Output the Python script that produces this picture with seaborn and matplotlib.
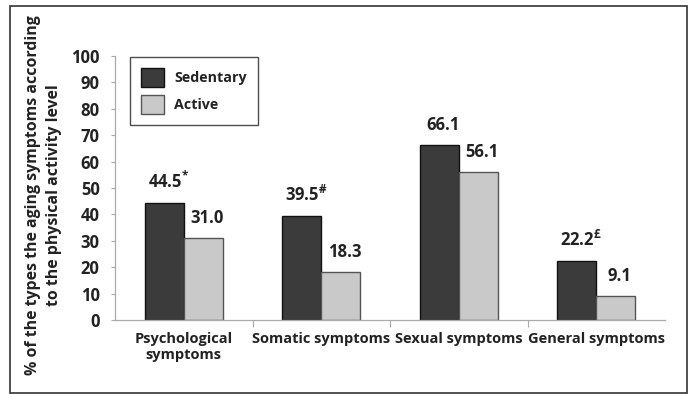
import matplotlib
matplotlib.use("Agg")
import matplotlib.pyplot as plt
import seaborn as sns
import pandas as pd
from matplotlib.patches import Rectangle, Patch

categories = ["Psychological\nsymptoms", "Somatic symptoms", "Sexual symptoms", "General symptoms"]
groups = ["Sedentary", "Active"]
sedentary = [44.5, 39.5, 66.1, 22.2]
active = [31.0, 18.3, 56.1, 9.1]
sed_marks = ["*", r"\#", "", "£"]
yticks = [0, 10, 20, 30, 40, 50, 60, 70, 80, 90, 100]
ylabel = "% of the types the aging symptoms according\nto the physical activity level"

sns.set_theme(style="white")
plt.rcParams["font.family"] = ["Open Sans", "DejaVu Sans"]
plt.rcParams["mathtext.fontset"] = "custom"
plt.rcParams["mathtext.rm"] = "Open Sans:bold"
plt.rcParams["mathtext.bf"] = "Open Sans:bold"

df = pd.DataFrame({
    "cat": categories * 2,
    "group": [groups[0]] * 4 + [groups[1]] * 4,
    "val": sedentary + active,
})

fig = plt.figure(figsize=(6.91, 3.94), dpi=100)
ax = fig.add_axes([115 / 691, 1 - 320 / 394, 550 / 691, 264 / 394])
colors = {"Sedentary": "#3b3b3b", "Active": "#c9c9c9"}
sns.barplot(data=df, x="cat", y="val", hue="group", palette=colors, ax=ax,
            width=0.565, gap=0, legend=False, saturation=1)
for i, p in enumerate(ax.patches[:8]):
    p.set_edgecolor("#111111" if i < 4 else "#555555")
    p.set_linewidth(1.0)

ax.set_ylim(0, 100)
ax.set_xlim(-0.5, 3.5)
ax.set_yticks(yticks)
ax.set_yticklabels([str(t) for t in yticks], fontsize=12, fontweight="bold", color="#222222")
ax.tick_params(axis="y", which="major", length=3, width=0.8, color="#aaaaaa", pad=8, left=True)
ax.set_xticks(range(4))
ax.set_xticklabels(categories, fontsize=10.5, fontweight="bold", color="#222222", linespacing=1.1)
ax.tick_params(axis="x", which="major", length=0, pad=9)
ax.set_xticks([0.5, 1.5, 2.5], minor=True)
ax.tick_params(axis="x", which="minor", length=5, width=0.8, color="#aaaaaa", bottom=True, direction="out")
for s in ["top", "right"]:
    ax.spines[s].set_visible(False)
for s in ["left", "bottom"]:
    ax.spines[s].set_color("#aaaaaa")
    ax.spines[s].set_linewidth(0.9)
ax.set_xlabel("")
ax.set_ylabel("")
fig.text(0.063, 0.505, ylabel, rotation=90, ha="center", va="center",
         fontsize=11.4, fontweight="bold", color="#222222", linespacing=1.35)

# value labels
w = 0.565 / 2
for i in range(4):
    lab = f"{sedentary[i]:.1f}" + (f"$^{{{sed_marks[i]}}}$" if sed_marks[i] else "")
    ax.annotate(lab, (i - w / 2, sedentary[i]), xytext=(3, 8), textcoords="offset points",
                ha="center", va="bottom", fontsize=12, fontweight="bold", color="#222222")
    ax.annotate(f"{active[i]:.1f}", (i + w / 2, active[i]), xytext=(3, 8), textcoords="offset points",
                ha="center", va="bottom", fontsize=12, fontweight="bold", color="#222222")

handles = [Patch(facecolor=colors[g], edgecolor="#111111" if g == "Sedentary" else "#555555", linewidth=1.0)
           for g in groups]
leg = ax.legend(handles, groups, loc="upper left", bbox_to_anchor=(15 / 550, 1.0 - 1 / 264),
                frameon=True, fancybox=False, edgecolor="#222222", fontsize=10.3,
                handlelength=1.6, handleheight=1.6, borderpad=0.8, labelspacing=0.6,
                handletextpad=0.7, borderaxespad=0)
for t in leg.get_texts():
    t.set_fontweight("bold")
    t.set_color("#222222")
leg.get_frame().set_linewidth(1.0)

fig.patches.append(Rectangle((10 / 691, 1 / 394), 677 / 691, 387 / 394, transform=fig.transFigure,
                             fill=False, edgecolor="#333333", linewidth=1.2))

fig.savefig("out.png", dpi=100)
